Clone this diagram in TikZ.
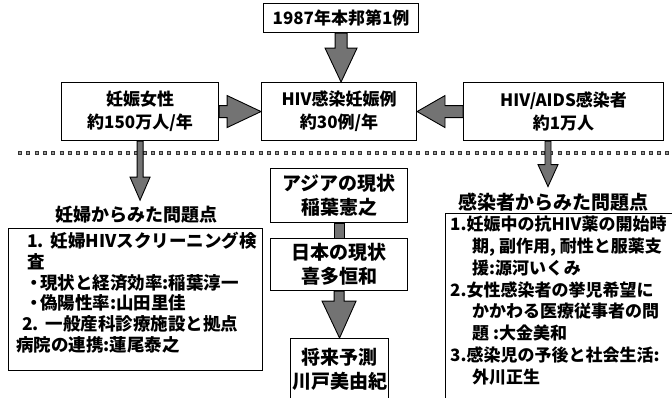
\documentclass[tikz,border=0pt]{standalone}
\usepackage{fontspec}
\setmainfont{Noto Sans CJK JP}
\usetikzlibrary{calc}
\newcommand\listdot{\makebox[12pt][c]{・}}
\begin{document}
\begin{tikzpicture}[x=1pt,y=-1pt,
  box/.style={draw=black, line width=1.1pt, fill=white, inner sep=0pt, align=center,
    font=\bfseries\fontsize{17pt}{23pt}\selectfont},
  cbox/.style={box, font=\bfseries\fontsize{19pt}{24pt}\selectfont},
  plainbox/.style={draw=black, line width=1.1pt, fill=white, inner sep=0pt},
  fatarr/.style={draw=black, line width=0.9pt, fill=black!55, line join=miter},
  titletext/.style={inner sep=0pt, font=\bfseries\fontsize{18pt}{20pt}\selectfont},
  listtext/.style={align=left, inner sep=0pt, anchor=north west,
    font=\bfseries\fontsize{17.5pt}{20.8pt}\selectfont},
  dotouter/.style={line width=4pt, black!80, dash pattern=on 4pt off 4.3pt},
  dotinner/.style={line width=2pt, black!40, dash pattern=on 2pt off 6.3pt, dash phase=-1pt},
]
\useasboundingbox (0,0) rectangle (672,397);
\clip (0,0) rectangle (672,397);
\fill[white] (0,0) rectangle (672,397);

% top row
\node[box, minimum width=155pt, minimum height=29pt, anchor=north west] (first) at (263,3) {1987年本邦第1例};

% middle row
\node[box, minimum width=157pt, minimum height=58pt, anchor=north west] (women) at (61,82) {妊娠女性\\約150万人/年};
\node[box, minimum width=155pt, minimum height=58pt, anchor=north west] (center) at (261,82) {HIV感染妊娠例\\約30例/年};
\node[box, minimum width=200pt, minimum height=58pt, anchor=north west] (carriers) at (463,82) {HIV/AIDS感染者\\約1万人};

% fat arrows to the centre box
\filldraw[fatarr] ($(first.south)+(-6,0)$) -- ($(first.south)+(-6,15)$) -- ($(first.south)+(-16,15)$)
  -- (first.south |- center.north) -- ($(first.south)+(16,15)$) -- ($(first.south)+(6,15)$)
  -- ($(first.south)+(6,0)$) -- cycle;
\filldraw[fatarr] ($(women.east)+(0,-6)$) -- ($(women.east)+(8,-6)$) -- ($(women.east)+(8,-16)$)
  -- (center.west) -- ($(women.east)+(8,16)$) -- ($(women.east)+(8,6)$) -- ($(women.east)+(0,6)$) -- cycle;
\filldraw[fatarr] ($(carriers.west)+(0,-6)$) -- ($(carriers.west)+(-18,-6)$) -- ($(carriers.west)+(-18,-16)$)
  -- (center.east) -- ($(carriers.west)+(-18,16)$) -- ($(carriers.west)+(-18,6)$) -- ($(carriers.west)+(0,6)$) -- cycle;

% dotted separator
\coordinate (dl) at (18,153);
\coordinate (dr) at (680,153);
\draw[dotouter] (dl) -- (dr);
\draw[dotinner] (dl) -- (dr);

% section titles
\node[titletext] (ptitle) at (136,215) {妊婦からみた問題点};
\node[titletext, font=\bfseries\fontsize{19pt}{20pt}\selectfont] (ctitle) at (553,202) {感染者からみた問題点};

% thin arrows to the section titles
\coordinate (ls) at (women.south);
\coordinate (lt) at (ls |- ptitle.north);
\filldraw[fatarr] ($(ls)+(-3,0)$) -- ($(lt)+(-3,-29)$) -- ($(lt)+(-10,-29)$) -- ($(lt)+(0,-6)$)
  -- ($(lt)+(10,-29)$) -- ($(lt)+(3,-29)$) -- ($(ls)+(3,0)$) -- cycle;
\coordinate (rs) at ($(carriers.south west)+(85,0)$);
\coordinate (rt) at (rs |- ctitle.north);
\filldraw[fatarr] ($(rs)+(-3,0)$) -- ($(rt)+(-3,-28)$) -- ($(rt)+(-10,-28)$) -- ($(rt)+(0,-6)$)
  -- ($(rt)+(10,-28)$) -- ($(rt)+(3,-28)$) -- ($(rs)+(3,0)$) -- cycle;

% left list box
\node[plainbox, minimum width=254pt, minimum height=142pt, anchor=north west] (pbox) at (8,228) {};
\node[listtext] (ptext) at ($(pbox.north west)+(8,4)$) {%
\hspace*{11pt}1.\hspace{7pt}妊婦HIVスクリーニング検\\%
\hspace*{11pt}査\\%
\hspace*{12pt}\listdot 現状と経済効率:稲葉淳一\\%
\hspace*{12pt}\listdot 偽陽性率:山田里佳\\%
\hspace*{6pt}2.\hspace{7pt}一般産科診療施設と拠点\\%
病院の連携:蓮尾泰之};

% right list box
\node[plainbox, minimum width=240pt, minimum height=200pt, anchor=north west] (cbox) at (445,213) {};
\node[listtext, font=\bfseries\fontsize{17pt}{21.8pt}\selectfont] (ctext) at ($(cbox.north west)+(5,3)$) {%
1.妊娠中の抗HIV薬の開始時\\%
\hspace*{22pt}期, 副作用, 耐性と服薬支\\%
\hspace*{22pt}援:源河いくみ\\%
2.女性感染者の挙児希望に\\%
\hspace*{22pt}かかわる医療従事者の問\\%
\hspace*{22pt}題 :大金美和\\%
3.感染児の予後と社会生活:\\%
\hspace*{22pt}外川正生};

% centre column
\node[cbox, minimum width=137pt, minimum height=54pt, anchor=north west] (asia) at (270,168) {アジアの現状\\稲葉憲之};
\node[cbox, minimum width=137pt, minimum height=52pt, anchor=north west] (japan) at (270,238) {日本の現状\\喜多恒和};
\node[cbox, minimum width=98pt, minimum height=62pt, anchor=north west] (future) at (290,338) {将来予測\\川戸美由紀};
\filldraw[fatarr] ($(asia.south)+(-5,0)$) rectangle ($(japan.north)+(5,0)$);
\filldraw[fatarr] ($(japan.south)+(-5,0)$) -- ($(japan.south)+(-5,10)$) -- ($(japan.south)+(-17,10)$)
  -- (future.north) -- ($(japan.south)+(17,10)$) -- ($(japan.south)+(5,10)$) -- ($(japan.south)+(5,0)$) -- cycle;
\end{tikzpicture}
\end{document}
